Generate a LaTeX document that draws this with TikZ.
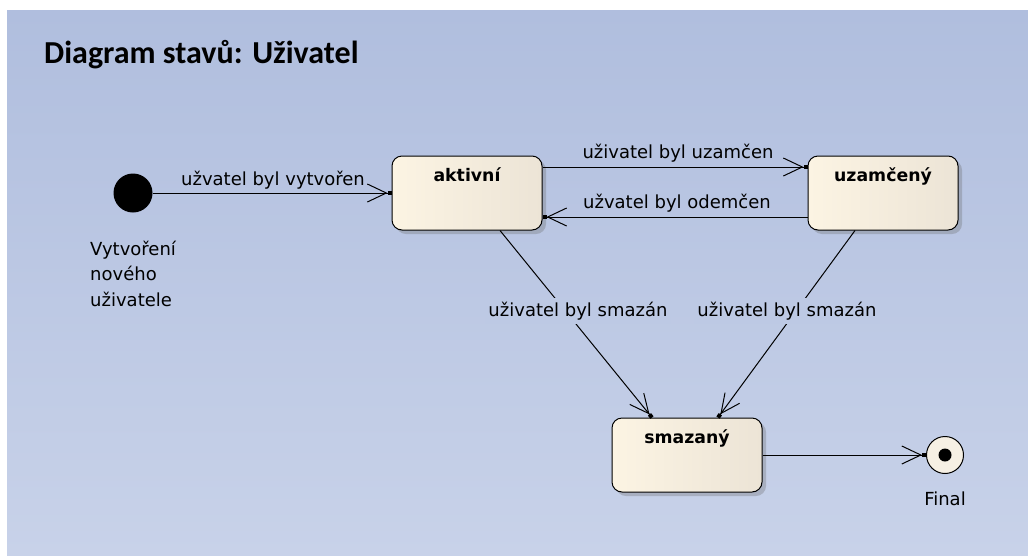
\documentclass[tikz,border=0pt]{standalone}
\usepackage{fontspec}
\setmainfont{DejaVu Sans}
\newfontfamily\titlefont{Carlito}
\usetikzlibrary{arrows.meta,shadows}
\definecolor{bgtop}{RGB}{176,190,222}
\definecolor{bgbot}{RGB}{200,210,233}
\definecolor{lblbg}{RGB}{189,201,228}
\definecolor{boxL}{RGB}{252,244,227}
\definecolor{boxR}{RGB}{236,228,214}
\definecolor{finfill}{RGB}{246,240,228}
\tikzset{
  state/.style={rectangle, rounded corners=10pt, draw=black, line width=1pt,
    minimum width=150pt, minimum height=74pt, left color=boxL, right color=boxR,
    drop shadow={shadow xshift=4pt, shadow yshift=-4pt, fill=black!60, opacity=0.3}},
  stname/.style={font=\fontsize{17.3}{20}\selectfont\bfseries, inner sep=0pt, anchor=base, yshift=-26pt},
  lbl/.style={font=\fontsize{18}{22}\selectfont, anchor=base, inner sep=0pt},
  cutlbl/.style={lbl, fill=lblbg, inner xsep=3pt, inner ysep=4pt},
  trans/.style={line width=1pt, -{Straight Barb[length=19pt,width=18pt] Square[length=4pt,width=4pt]}},
}
\begin{document}
\begin{tikzpicture}[x=1pt,y=-1pt]
\useasboundingbox (0,0) rectangle (1028,555);
\fill[white] (0,0) rectangle (1028,555);
\shade[top color=bgtop, bottom color=bgbot] (7,10) rectangle (1028,555);

\node[anchor=base west, inner sep=0pt, font=\titlefont\bfseries\fontsize{32}{36}\selectfont] (title) at (44,63) {Diagram stavů: Uživatel};

\node[state, label={[stname]north:aktivní}] (akt) at (467,193) {};
\node[state, label={[stname]north:uzamčený}] (uzam) at (883,193) {};
\node[state, label={[stname]north:smazaný}] (smaz) at (687,455) {};
\node[circle, fill=black, minimum size=39pt, inner sep=0pt] (init) at (133,193) {};
\node[circle, draw=black, line width=1pt, fill=finfill, minimum size=37pt, inner sep=0pt,
  path picture={\fill[black] (path picture bounding box.center) circle (6.5pt);}] (fin) at (945,455) {};

\draw[trans] (init) -- (akt.west);
\draw[trans] ([yshift=26pt]akt.east) -- ([yshift=26pt]uzam.west);
\draw[trans] ([yshift=-24pt]uzam.west) -- ([yshift=-24pt]akt.east);
\draw[trans] ([xshift=33pt]akt.south) -- ([xshift=-35pt]smaz.north);
\draw[trans] ([xshift=-28pt]uzam.south) -- ([xshift=31pt]smaz.north);
\draw[trans] (smaz.east) -- (fin);

\node[lbl] (l1) at (273,185) {užvatel byl vytvořen};
\node[lbl] (l2) at (678,158) {uživatel byl uzamčen};
\node[lbl] (l3) at (677,208) {užvatel byl odemčen};
\node[cutlbl] (l4) at (578,316) {uživatel byl smazán};
\node[cutlbl] (l5) at (787,316) {uživatel byl smazán};
\node[lbl, anchor=base west, align=left, font=\fontsize{18}{25.5}\selectfont] (l6) at (90,306) {Vytvoření\\nového\\uživatele};
\node[lbl] (l7) at (945,505) {Final};
\end{tikzpicture}
\end{document}
